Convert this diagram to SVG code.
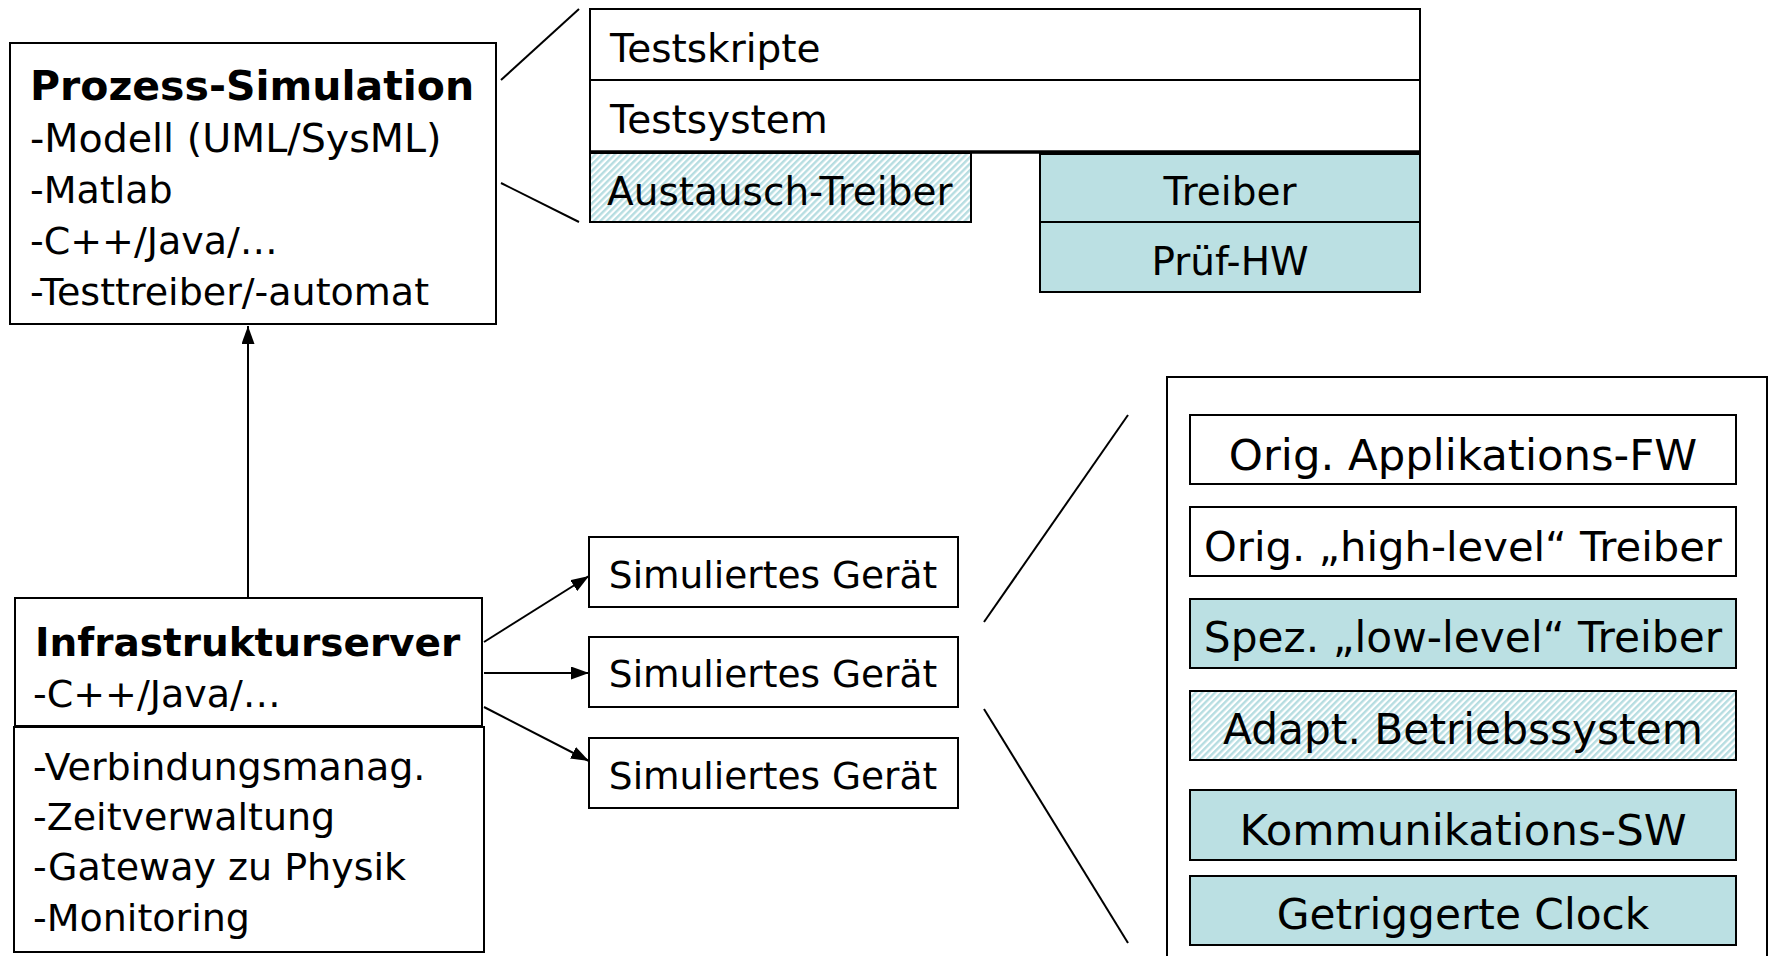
<svg xmlns="http://www.w3.org/2000/svg" width="1770" height="956" viewBox="0 0 1770 956">
  <style>
    .box { fill: #ffffff; stroke: #000000; stroke-width: 2; }
    .teal { fill: #bbe0e3; stroke: #000000; stroke-width: 2; }
    .hatch { fill: url(#stripes); stroke: #000000; stroke-width: 2; }
    .wire { fill: none; stroke: #000000; stroke-width: 2; }
    text { font-family: "DejaVu Sans", Verdana, sans-serif; fill: #000000; }
    .t38 { font-size: 38px; }
    .t37 { font-size: 37.5px; }
    .t39 { font-size: 39px; }
    .t42 { font-size: 42.3px; }
    .t43 { font-size: 43.4px; }
    .bold { font-weight: bold; }
    .mid { text-anchor: middle; }
  </style>
  <defs>
    <!-- light teal diagonal hatching -->
    <pattern id="stripes" width="4.6" height="4.6" patternUnits="userSpaceOnUse" patternTransform="rotate(45)">
      <rect width="4.6" height="4.6" fill="#ffffff"/>
      <rect width="2.4" height="4.6" fill="#b6dde1"/>
    </pattern>
    <marker id="arrow" viewBox="0 0 18 13" refX="18" refY="6.5" markerWidth="18" markerHeight="13" markerUnits="userSpaceOnUse" orient="auto">
      <path d="M0,0 L18,6.5 L0,13 Z" fill="#000000"/>
    </marker>
  </defs>

  <!-- connectors -->
  <g id="connectors">
    <line class="wire" x1="248" y1="598" x2="248" y2="326" marker-end="url(#arrow)"/>
    <line class="wire" x1="484" y1="642" x2="589" y2="576" marker-end="url(#arrow)"/>
    <line class="wire" x1="484" y1="673" x2="589" y2="673" marker-end="url(#arrow)"/>
    <line class="wire" x1="484" y1="707" x2="589" y2="761" marker-end="url(#arrow)"/>
    <!-- zoom-out guide lines -->
    <line class="wire" x1="501" y1="80" x2="579" y2="9"/>
    <line class="wire" x1="501" y1="183" x2="579" y2="222"/>
    <line class="wire" x1="984" y1="622" x2="1128" y2="415"/>
    <line class="wire" x1="984" y1="709" x2="1128" y2="943"/>
  </g>

  <g id="prozess-simulation">
    <rect class="box" x="10" y="43" width="486" height="281"/>
    <text class="bold" x="30" y="100" style="font-size:41px">Prozess-Simulation</text>
    <text x="30" y="152" style="font-size:39.6px">-Modell (UML/SysML)</text>
    <text class="t38" x="30" y="203">-Matlab</text>
    <text class="t38" x="30" y="254">-C++/Java/…</text>
    <text class="t38" x="30" y="305">-Testtreiber/-automat</text>
  </g>

  <g id="testskripte">
    <rect class="box" x="590" y="9" width="830" height="71"/>
    <text class="t39" x="610" y="62">Testskripte</text>
  </g>
  <g id="testsystem">
    <rect class="box" x="590" y="80" width="830" height="72"/>
    <line x1="590" y1="152" x2="1420" y2="152" stroke="#000000" stroke-width="3.5"/>
    <text class="t39" x="610" y="133">Testsystem</text>
  </g>
  <g id="austausch-treiber">
    <rect class="hatch" x="590" y="153" width="381" height="69"/>
    <text class="t39" x="607" y="205">Austausch-Treiber</text>
  </g>
  <g id="treiber">
    <rect class="teal" x="1040" y="154" width="380" height="68"/>
    <text class="t39 mid" x="1230" y="205">Treiber</text>
  </g>
  <g id="pruef-hw">
    <rect class="teal" x="1040" y="222" width="380" height="70"/>
    <text class="t39 mid" x="1230" y="275">Prüf-HW</text>
  </g>

  <g id="infrastrukturserver">
    <rect class="box" x="15" y="598" width="467" height="128"/>
    <text class="bold" x="35" y="656" style="font-size:39px">Infrastrukturserver</text>
    <text class="t38" x="33" y="707">-C++/Java/…</text>
    <rect class="box" x="14" y="727" width="470" height="225"/>
    <text class="t38" x="33" y="780">-Verbindungsmanag.</text>
    <text class="t38" x="33" y="830">-Zeitverwaltung</text>
    <text class="t38" x="33" y="880">-Gateway zu Physik</text>
    <text class="t38" x="33" y="931">-Monitoring</text>
  </g>

  <g id="geraet-1">
    <rect class="box" x="589" y="537" width="369" height="70"/>
    <text class="t37 mid" x="773" y="588">Simuliertes Gerät</text>
  </g>
  <g id="geraet-2">
    <rect class="box" x="589" y="637" width="369" height="70"/>
    <text class="t37 mid" x="773" y="687">Simuliertes Gerät</text>
  </g>
  <g id="geraet-3">
    <rect class="box" x="589" y="738" width="369" height="70"/>
    <text class="t37 mid" x="773" y="789">Simuliertes Gerät</text>
  </g>

  <g id="geraet-aufbau">
    <rect class="box" x="1167" y="377" width="600" height="590"/>
    <g id="applikations-fw">
      <rect class="box" x="1190" y="415" width="546" height="69"/>
      <text class="t43 mid" x="1463" y="470">Orig. Applikations-FW</text>
    </g>
    <g id="high-level-treiber">
      <rect class="box" x="1190" y="507" width="546" height="69"/>
      <text class="mid" x="1463" y="561" style="font-size:41.7px">Orig. „high-level“ Treiber</text>
    </g>
    <g id="low-level-treiber">
      <rect class="teal" x="1190" y="599" width="546" height="69"/>
      <text class="t42 mid" x="1463" y="652">Spez. „low-level“ Treiber</text>
    </g>
    <g id="betriebssystem">
      <rect class="hatch" x="1190" y="691" width="546" height="69"/>
      <text class="t42 mid" x="1463" y="744">Adapt. Betriebssystem</text>
    </g>
    <g id="kommunikations-sw">
      <rect class="teal" x="1190" y="790" width="546" height="70"/>
      <text class="t43 mid" x="1463" y="845">Kommunikations-SW</text>
    </g>
    <g id="clock">
      <rect class="teal" x="1190" y="876" width="546" height="69"/>
      <text class="t42 mid" x="1463" y="929">Getriggerte Clock</text>
    </g>
  </g>
</svg>
